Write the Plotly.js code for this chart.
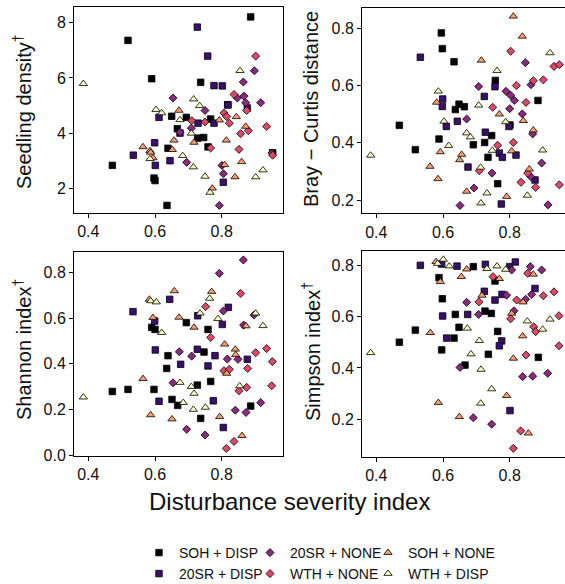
<!DOCTYPE html>
<html><head><meta charset="utf-8">
<script src="https://cdn.plot.ly/plotly-3.0.1.min.js"></script>
<style>html,body{margin:0;padding:0;background:#fff;overflow:hidden}#chart{width:565px;height:584px}</style>
</head><body><div id="chart"></div>
<script>
// ---------- categories ----------
const groups = ['SOH + DISP','20SR + DISP','20SR + NONE','WTH + NONE','SOH + NONE','WTH + DISP'];
const panelTitles = ['Seedling density<sup>†</sup>','Bray − Curtis distance','Shannon index<sup>†</sup>','Simpson index<sup>†</sup>'];
const xTitle = 'Disturbance severity index';
const xTickVals = [0.4,0.6,0.8];
const yTickVals1 = [2,4,6,8];
const yTickVals2 = [0.2,0.4,0.6,0.8];
const yTickVals3 = [0.0,0.2,0.4,0.6,0.8];
const yTickVals4 = [0.2,0.4,0.6,0.8];

// ---------- Panel 1: Seedling density ----------
const seed_x_sohDisp = [0.887,0.519,0.590,0.737,0.818,0.650,0.694,0.767,0.667,0.728,0.746,0.639,0.759,0.472,0.597,0.600,0.636,0.953];
const seed_y_sohDisp = [8.21,7.36,5.97,5.84,5.03,4.61,4.57,4.51,4.16,3.82,3.84,3.45,3.50,2.83,2.37,2.28,1.38,3.29];
const seed_x_srDisp = [0.727,0.758,0.777,0.802,0.819,0.877,0.612,0.729,0.777,0.675,0.599,0.535,0.601,0.645,0.805];
const seed_y_srDisp = [7.84,6.79,5.72,5.71,5.02,4.91,4.57,4.36,4.36,4.00,3.65,3.20,2.83,3.00,2.22];
const seed_x_srNone = [0.898,0.865,0.654,0.867,0.917,0.872,0.750,0.709,0.675,0.695,0.801,0.805,0.793,0.951,0.847];
const seed_y_srNone = [6.26,5.85,5.27,5.34,5.10,5.10,4.82,4.18,4.03,2.94,2.83,2.53,1.38,3.28,5.27];
const seed_x_wthNone = [0.902,0.837,0.875,0.807,0.710,0.750,0.815,0.823,0.880,0.857,0.935,0.767,0.852,0.953];
const seed_y_wthNone = [6.79,5.40,4.82,4.73,4.45,4.40,4.60,4.36,4.09,3.98,4.24,3.46,3.41,3.20];
const seed_x_sohNone = [0.672,0.793,0.844,0.872,0.657,0.717,0.814,0.564,0.585,0.587,0.652,0.594,0.809,0.860,0.840,0.772];
const seed_y_sohNone = [4.82,4.47,4.59,4.24,3.74,3.66,3.74,3.50,3.36,3.30,3.40,3.10,2.85,2.96,2.41,2.00];
const seed_x_wthDisp = [0.385,0.855,0.716,0.734,0.603,0.620,0.675,0.709,0.585,0.683,0.715,0.924,0.902,0.750,0.765];
const seed_y_wthDisp = [5.79,6.26,5.23,4.99,4.85,4.73,4.48,3.99,3.07,3.18,2.77,2.66,2.41,2.43,1.85];

// ---------- Panel 2: Bray-Curtis distance ----------
const bray_x_sohDisp = [0.595,0.598,0.633,0.757,0.885,0.648,0.664,0.637,0.469,0.588,0.517,0.746,0.691,0.725,0.735,0.764,0.801];
const bray_y_sohDisp = [0.784,0.729,0.683,0.618,0.548,0.535,0.526,0.516,0.461,0.413,0.376,0.425,0.393,0.401,0.349,0.257,0.462];
const bray_x_srDisp = [0.532,0.756,0.599,0.598,0.724,0.610,0.643,0.798,0.727,0.769,0.778,0.819,0.675,0.876,0.775];
const bray_y_srDisp = [0.699,0.596,0.553,0.527,0.562,0.457,0.475,0.457,0.437,0.364,0.349,0.357,0.315,0.270,0.186];
const bray_x_srNone = [0.847,0.707,0.864,0.789,0.803,0.814,0.800,0.671,0.838,0.869,0.896,0.747,0.863,0.693,0.651,0.915];
const bray_y_srNone = [0.680,0.597,0.603,0.580,0.566,0.548,0.519,0.483,0.501,0.431,0.329,0.294,0.282,0.242,0.181,0.183];
const bray_x_wthNone = [0.803,0.933,0.949,0.901,0.871,0.820,0.849,0.749,0.764,0.811,0.709,0.854,0.834,0.878,0.949];
const bray_y_wthNone = [0.720,0.667,0.673,0.620,0.617,0.600,0.541,0.524,0.391,0.401,0.302,0.294,0.262,0.244,0.253];
const bray_x_sohNone = [0.811,0.838,0.715,0.581,0.769,0.841,0.871,0.592,0.656,0.650,0.806,0.561,0.859,0.585,0.671,0.791];
const bray_y_sohNone = [0.842,0.772,0.688,0.541,0.500,0.477,0.444,0.368,0.359,0.340,0.371,0.317,0.308,0.274,0.230,0.212];
const bray_x_wthDisp = [0.921,0.762,0.586,0.707,0.603,0.788,0.617,0.383,0.671,0.682,0.748,0.899,0.713,0.732,0.853,0.714];
const bray_y_wthDisp = [0.714,0.652,0.580,0.531,0.475,0.473,0.390,0.356,0.434,0.420,0.373,0.374,0.314,0.224,0.216,0.189];

// ---------- Panel 3: Shannon index ----------
const shan_x_sohDisp = [0.694,0.590,0.600,0.759,0.747,0.639,0.635,0.472,0.519,0.597,0.727,0.767,0.651,0.668,0.887,0.737];
const shan_y_sohDisp = [0.581,0.560,0.551,0.551,0.452,0.436,0.380,0.279,0.288,0.288,0.307,0.323,0.244,0.218,0.215,0.161];
const shan_x_srDisp = [0.644,0.534,0.820,0.728,0.599,0.802,0.601,0.727,0.780,0.877,0.677,0.759,0.612,0.775,0.805];
const shan_y_srDisp = [0.683,0.629,0.648,0.611,0.588,0.573,0.461,0.464,0.436,0.420,0.398,0.391,0.236,0.238,0.121];
const shan_x_srNone = [0.865,0.793,0.805,0.897,0.866,0.673,0.710,0.817,0.849,0.654,0.841,0.873,0.917,0.695,0.750];
const shan_y_srNone = [0.856,0.797,0.632,0.614,0.570,0.453,0.434,0.421,0.420,0.317,0.197,0.187,0.230,0.113,0.088];
const shan_x_wthNone = [0.857,0.752,0.767,0.902,0.935,0.952,0.807,0.823,0.878,0.852,0.875,0.950,0.837,0.814];
const shan_y_wthNone = [0.709,0.651,0.516,0.449,0.467,0.410,0.370,0.376,0.380,0.282,0.297,0.304,0.060,0.029];
const shan_x_sohNone = [0.658,0.770,0.583,0.594,0.672,0.873,0.717,0.809,0.841,0.842,0.815,0.564,0.587,0.651,0.794,0.861];
const shan_y_sohNone = [0.720,0.717,0.683,0.603,0.604,0.566,0.560,0.486,0.464,0.440,0.358,0.335,0.176,0.158,0.168,0.085];
const shan_x_wthDisp = [0.587,0.604,0.764,0.735,0.902,0.789,0.924,0.620,0.675,0.709,0.717,0.854,0.685,0.715,0.751,0.385];
const shan_y_wthDisp = [0.676,0.671,0.687,0.622,0.622,0.598,0.567,0.537,0.318,0.300,0.270,0.303,0.230,0.200,0.209,0.254];

// ---------- Panel 4: Simpson index ----------
const simp_x_sohDisp = [0.691,0.588,0.756,0.598,0.637,0.726,0.745,0.517,0.648,0.633,0.764,0.469,0.596,0.736,0.886,0.666];
const simp_y_sohDisp = [0.794,0.751,0.738,0.669,0.608,0.621,0.612,0.547,0.558,0.516,0.542,0.500,0.470,0.453,0.441,0.411];
const simp_x_srDisp = [0.532,0.596,0.642,0.727,0.800,0.817,0.876,0.724,0.777,0.756,0.599,0.674,0.611,0.776,0.769,0.801];
const simp_y_srDisp = [0.799,0.804,0.796,0.803,0.794,0.812,0.709,0.698,0.686,0.664,0.602,0.608,0.516,0.505,0.486,0.234];
const simp_x_srNone = [0.806,0.862,0.896,0.866,0.791,0.671,0.848,0.707,0.813,0.651,0.839,0.869,0.914,0.691,0.746];
const simp_y_srNone = [0.781,0.794,0.781,0.686,0.683,0.655,0.667,0.608,0.622,0.402,0.366,0.368,0.379,0.206,0.181];
const simp_x_wthNone = [0.854,0.750,0.901,0.933,0.708,0.821,0.948,0.803,0.872,0.878,0.948,0.849,0.833,0.811];
const simp_y_wthNone = [0.768,0.755,0.681,0.696,0.657,0.664,0.603,0.591,0.560,0.541,0.486,0.450,0.155,0.087];
const simp_x_sohNone = [0.579,0.671,0.871,0.592,0.655,0.769,0.717,0.840,0.806,0.562,0.839,0.811,0.586,0.791,0.649,0.856];
const simp_y_sohNone = [0.813,0.784,0.764,0.735,0.755,0.747,0.682,0.656,0.612,0.537,0.524,0.437,0.265,0.292,0.210,0.146];
const simp_x_wthDisp = [0.584,0.601,0.619,0.732,0.762,0.788,0.853,0.921,0.899,0.673,0.709,0.383,0.684,0.714,0.746,0.713];
const simp_y_wthDisp = [0.806,0.822,0.796,0.786,0.796,0.783,0.582,0.589,0.550,0.554,0.506,0.459,0.454,0.394,0.318,0.262];

// ---------- styles ----------
const colors = ['#000004','#3B0F70','#8C2981','#DE4968','#FE9F6D','#FCFDBF'];
const symbols = ['square','square','diamond','diamond','triangle-up','triangle-up'];
const msizes = [6.5,6.5,6.2,6.2,7.2,7.2];
const legendOf = ['legend','legend2','legend','legend2','legend','legend2'];
const legendWidths = [66,66,73,73,100,100];

const panels = [
  {xs:[seed_x_sohDisp,seed_x_srDisp,seed_x_srNone,seed_x_wthNone,seed_x_sohNone,seed_x_wthDisp],
   ys:[seed_y_sohDisp,seed_y_srDisp,seed_y_srNone,seed_y_wthNone,seed_y_sohNone,seed_y_wthDisp]},
  {xs:[bray_x_sohDisp,bray_x_srDisp,bray_x_srNone,bray_x_wthNone,bray_x_sohNone,bray_x_wthDisp],
   ys:[bray_y_sohDisp,bray_y_srDisp,bray_y_srNone,bray_y_wthNone,bray_y_sohNone,bray_y_wthDisp]},
  {xs:[shan_x_sohDisp,shan_x_srDisp,shan_x_srNone,shan_x_wthNone,shan_x_sohNone,shan_x_wthDisp],
   ys:[shan_y_sohDisp,shan_y_srDisp,shan_y_srNone,shan_y_wthNone,shan_y_sohNone,shan_y_wthDisp]},
  {xs:[simp_x_sohDisp,simp_x_srDisp,simp_x_srNone,simp_x_wthNone,simp_x_sohNone,simp_x_wthDisp],
   ys:[simp_y_sohDisp,simp_y_srDisp,simp_y_srNone,simp_y_wthNone,simp_y_sohNone,simp_y_wthDisp]}
];

const traces = [];
panels.forEach((p, pi) => {
  const ax = pi === 0 ? '' : String(pi + 1);
  for (let g = 0; g < groups.length; g++) {
    const t = {
      type: 'scatter', mode: 'markers',
      x: p.xs[g], y: p.ys[g],
      xaxis: 'x' + ax, yaxis: 'y' + ax,
      name: groups[g], legendgroup: groups[g],
      legend: legendOf[g],
      showlegend: pi === 0,
      marker: {symbol: symbols[g], size: msizes[g], color: colors[g],
               line: {color: '#000000', width: 0.8}},
      hoverinfo: 'skip'
    };
    if (pi === 0) t.legendwidth = legendWidths[g];
    traces.push(t);
  }
});

const W = 565, H = 584;
const FONT = 'Liberation Sans, Arial, Helvetica, sans-serif';
function xax(domain, range) {
  return {domain: domain, range: range, tickvals: xTickVals, tickformat: '.1f',
    showline: true, linecolor: '#000', linewidth: 1, mirror: true,
    ticks: 'outside', ticklen: 4, tickwidth: 1, tickcolor: '#000',
    showgrid: false, zeroline: false, fixedrange: true,
    tickfont: {family: FONT, size: 16, color: '#111'}};
}
function yax(domain, range, tv, fmt, mirror, xanchor) {
  return {domain: domain, range: range, tickvals: tv, tickformat: fmt, anchor: xanchor,
    showline: true, linecolor: '#000', linewidth: 1, mirror: mirror,
    ticks: 'outside', ticklen: 4, tickwidth: 1, tickcolor: '#000',
    showgrid: false, zeroline: false, fixedrange: true,
    tickfont: {family: FONT, size: 16, color: '#111'}};
}
const dL = [74/W, 283/W], dR = [362/W, 1];
const legendBase = {orientation: 'h', xanchor: 'left', yanchor: 'middle',
  font: {family: FONT, size: 14, color: '#111'}, entrywidth: 71, entrywidthmode: 'pixels',
  bgcolor: 'rgba(0,0,0,0)', itemsizing: 'trace', itemclick: false, itemdoubleclick: false};
const titleFont = {family: FONT, size: 20, color: '#111'};
function ytitle(text, xpx, ypx) {
  return {text: text, xref: 'paper', yref: 'paper', x: xpx/W, y: 1-ypx/H,
          xanchor: 'center', yanchor: 'middle', textangle: -90, showarrow: false, font: titleFont};
}

const layout = {
  width: W, height: H,
  margin: {l: 0, r: 0, t: 0, b: 0, pad: 0, autoexpand: false},
  paper_bgcolor: '#fff', plot_bgcolor: '#fff',
  font: {family: FONT, color: '#111'},
  xaxis:  Object.assign(xax(dL, [0.357, 0.984]), {anchor: 'y'}),
  yaxis:  yax([1-213/H, 1-7/H], [1.105, 8.569], yTickVals1, 'd', true, 'x'),
  xaxis2: Object.assign(xax(dR, [0.357, 0.966]), {anchor: 'y2'}),
  yaxis2: yax([1-213.3/H, 1-8.3/H], [0.1535, 0.870], yTickVals2, '.1f', false, 'x2'),
  xaxis3: Object.assign(xax(dL, [0.357, 0.984]), {anchor: 'y3'}),
  yaxis3: yax([1-456/H, 1-251.7/H], [-0.004, 0.892], yTickVals3, '.1f', true, 'x3'),
  xaxis4: Object.assign(xax(dR, [0.357, 0.966]), {anchor: 'y4'}),
  yaxis4: yax([1-457/H, 1-250.7/H], [0.0534, 0.856], yTickVals4, '.1f', false, 'x4'),
  legend:  Object.assign({}, legendBase, {x: 139/W, y: 1-553/H}),
  legend2: Object.assign({}, legendBase, {x: 139/W, y: 1-574/H}),
  annotations: [
    ytitle(panelTitles[0], 22, 112),
    ytitle(panelTitles[1], 311, 109),
    ytitle(panelTitles[2], 22, 350),
    ytitle(panelTitles[3], 311, 352),
    {text: xTitle, xref: 'paper', yref: 'paper', x: 289/W, y: 1-501/H, xanchor: 'center', yanchor: 'middle',
     showarrow: false, font: {family: FONT, size: 24, color: '#111'}}
  ]
};

Plotly.newPlot('chart', traces, layout, {displayModeBar: false, staticPlot: true});
</script></body></html>
